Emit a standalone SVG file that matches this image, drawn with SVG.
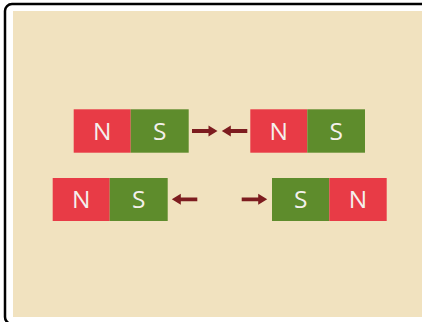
<svg xmlns="http://www.w3.org/2000/svg" width="422" height="322" viewBox="0 0 422 322">
<style>
.n{fill:#E83B46}
.s{fill:#5E8C2C}
.t{font-family:"Open Sans","Liberation Sans",sans-serif;font-size:24.5px;fill:#F4F0EC;text-anchor:middle}
.a{fill:#7D1C1F}
</style>
<defs>
<path id="ar" d="M0,-1.9 H16.5 V-5.5 L25.5,0 L16.5,5.5 V1.9 H0 Z"/>
</defs>
<rect width="422" height="322" fill="#ffffff"/>
<rect x="13" y="11" width="409" height="306" fill="#F1E2BF"/>
<rect x="5" y="4" width="440" height="320" rx="7" fill="none" stroke="#000" stroke-width="2.5"/>
<g id="magnet1">
<rect class="n" x="73.7" y="109.3" width="57" height="43.4"/>
<rect class="s" x="130.7" y="109.3" width="58" height="43.4"/>
<text class="t" x="102.2" y="139.8">N</text>
<text class="t" x="159.7" y="139.8">S</text>
</g>
<g id="magnet2">
<rect class="n" x="250.3" y="109.3" width="57" height="43.4"/>
<rect class="s" x="307.3" y="109.3" width="57.7" height="43.4"/>
<text class="t" x="278.8" y="139.8">N</text>
<text class="t" x="336.2" y="139.8">S</text>
</g>
<g id="magnet3">
<rect class="n" x="52.7" y="178" width="57" height="43"/>
<rect class="s" x="109.7" y="178" width="58" height="43"/>
<text class="t" x="81.2" y="208.3">N</text>
<text class="t" x="138.7" y="208.3">S</text>
</g>
<g id="magnet4">
<rect class="s" x="272" y="178" width="57.3" height="43"/>
<rect class="n" x="329.3" y="178" width="57.4" height="43"/>
<text class="t" x="300.7" y="208.3">S</text>
<text class="t" x="358" y="208.3">N</text>
</g>
<g id="connectors" class="a">
<use href="#ar" transform="translate(192,131)"/>
<use href="#ar" transform="translate(247.3,131) scale(-1,1)"/>
<use href="#ar" transform="translate(197.3,199.3) scale(-1,1)"/>
<use href="#ar" transform="translate(241.7,199.3)"/>
</g>
</svg>
